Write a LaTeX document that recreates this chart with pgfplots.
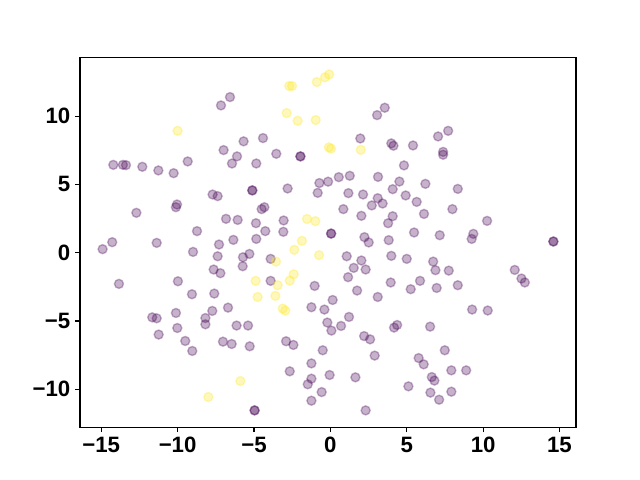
\documentclass[border=0pt]{standalone}
\usepackage{pgfplots}
\pgfplotsset{compat=1.18}
\usepackage{fontspec}
\setmainfont{Liberation Sans}
\definecolor{vpurple}{HTML}{440154}
\definecolor{vyellow}{HTML}{FDE725}
\begin{document}
\begin{tikzpicture}
\begin{axis}[
  scale only axis, width=357.12pt, height=266.11pt,
  xmin=-16.39, xmax=16.08, ymin=-12.77, ymax=14.28,
  xtick={-15,-10,-5,0,5,10,15}, xticklabels={−15,−10,−5,0,5,10,15},
  ytick={-10,-5,0,5,10}, yticklabels={−10,−5,0,5,10},
  tick align=outside, xtick pos=bottom, ytick pos=left,
  major tick length=3.5pt,
  axis line style={line width=0.8pt},
  tick style={line width=0.8pt, black},
  ticklabel style={font=\fontsize{16}{19}\selectfont\bfseries},
]
\addplot[only marks, mark=*, mark size=3.25pt, mark options={fill=vpurple, draw=vpurple, opacity=0.3, line width=1pt}] coordinates {
(-14.21,6.43) (-13.58,6.43) (-13.38,6.41) (-12.31,6.29) (-11.26,6.02) (-10.26,5.82) (-9.34,6.68)
(-6.57,11.39) (-7.16,10.78) (-5.68,8.15) (-4.41,8.39) (-6.99,7.51) (-6.11,7.05) (-6.44,6.53)
(-4.85,6.53) (-3.54,7.24) (-1.96,7.05) (-1.96,7.05) (-0.72,5.10) (-0.15,5.20)
(3.56,10.61) (3.06,10.07) (1.96,8.36) (3.99,8.00) (4.13,7.83) (5.41,7.85) (7.05,8.51) (7.71,8.92)
(7.38,7.38) (7.38,7.17) (4.82,6.39) (0.55,5.53) (1.27,5.63) (3.12,5.55) (4.52,5.21) (6.22,5.04)
(-10.04,3.53) (-10.11,3.33) (-12.70,2.92) (-8.73,1.58) (-14.28,0.77) (-14.91,0.26) (-11.37,0.72)
(-8.99,0.06) (-13.84,-2.28) (-9.98,-2.09) (-9.06,-3.04)
(-7.71,4.26) (-7.38,4.14) (-5.11,4.56) (-5.11,4.56) (-2.80,4.70) (-0.83,4.38) (-4.50,3.19) (-4.32,3.33)
(-6.83,2.48) (-6.07,2.40) (-4.87,2.16) (-3.06,2.36) (-4.26,1.58) (-3.08,1.53) (0.05,1.40) (0.05,1.40)
(-7.29,0.60) (-6.35,0.94) (-4.85,1.01) (-7.38,-0.26) (-5.72,-0.33) (-5.30,-0.09) (-5.74,-0.99)
(-3.91,-0.45) (-7.64,-1.23) (-7.20,-1.50) (-3.91,-2.06) (-1.03,-2.43) (-7.60,-2.99)
(1.18,4.36) (2.14,4.26) (3.10,3.99) (3.42,3.60) (2.71,3.46) (0.85,3.19) (2.03,2.70) (4.08,4.65)
(4.93,4.19) (5.65,3.72) (4.08,2.67) (3.78,2.16) (6.13,2.84) (7.99,3.19) (5.48,1.48) (7.16,1.28)
(2.23,1.14) (2.51,0.75) (3.82,0.92) (1.07,-0.26) (2.03,-0.57) (1.53,-1.11) (2.31,-1.23) (3.99,-0.23)
(5.00,-0.45) (6.73,-0.65) (6.88,-1.28) (7.75,-1.31) (1.16,-1.79) (3.95,-2.18) (5.87,-2.06) (1.75,-2.77)
(5.26,-2.67) (6.96,-2.58) (3.10,-3.24) (0.15,-3.46)
(8.34,4.67) (10.26,2.33) (9.36,1.38) (9.25,1.01) (14.60,0.82) (14.60,0.82) (12.07,-1.26) (12.51,-1.89)
(12.73,-2.18) (8.34,-2.38)
(-11.66,-4.73) (-11.37,-4.80) (-10.11,-4.41) (-8.18,-4.78) (-8.18,-5.24) (-10.02,-5.51) (-11.24,-5.99)
(-9.50,-6.46) (-9.04,-7.19)
(-7.73,-4.26) (-6.70,-4.02) (-6.14,-5.33) (-5.39,-5.33) (-7.03,-6.51) (-6.46,-6.68) (-5.28,-6.85)
(-2.90,-6.48) (-2.42,-6.75) (-0.50,-7.14) (-1.24,-3.99) (-0.39,-4.16) (-0.20,-5.11) (0.07,-5.70)
(-1.24,-8.10) (-2.66,-8.68) (-1.24,-9.22) (-1.48,-9.63) (-0.57,-10.20) (-1.24,-10.83) (-0.05,-8.95)
(-4.96,-11.54) (-4.96,-11.54)
(1.22,-4.70) (0.70,-5.36) (2.21,-6.10) (2.60,-6.34) (4.17,-5.48) (4.37,-5.29) (6.53,-5.41) (7.49,-7.14)
(5.78,-7.71) (6.11,-8.17) (2.90,-7.53) (1.64,-9.12) (6.64,-9.10) (6.81,-9.36) (7.92,-8.61) (5.11,-9.78)
(6.55,-10.24) (7.12,-10.76) (7.92,-10.17) (2.31,-11.54)
(9.28,-4.16) (10.30,-4.23) (8.89,-8.61)
};
\addplot[only marks, mark=*, mark size=3.25pt, mark options={fill=vyellow, draw=vyellow, opacity=0.3, line width=1pt}] coordinates {
(-10.00,8.92) (-2.69,12.20) (-2.51,12.20) (-0.89,12.49) (-0.35,12.84) (-0.08,13.05) (-2.86,10.22)
(-2.14,9.66) (-0.96,9.71) (-0.10,7.71) (0.04,7.62) (1.99,7.53) (-1.53,2.47) (-0.98,2.31) (-1.86,0.87)
(-2.36,0.21) (-0.74,-0.18) (-3.56,-0.65) (-2.40,-1.58) (-2.66,-2.04) (-3.45,-2.38) (-4.89,-2.06)
(-3.60,-3.16) (-4.76,-3.24) (-3.12,-4.09) (-2.95,-4.24) (-5.89,-9.39) (-7.99,-10.56)
};
\end{axis}
\path (current axis.south west) ++(-57.6pt,-38.02pt);
\path (current axis.north east) ++(46.08pt,41.47pt);
\end{tikzpicture}
\end{document}
